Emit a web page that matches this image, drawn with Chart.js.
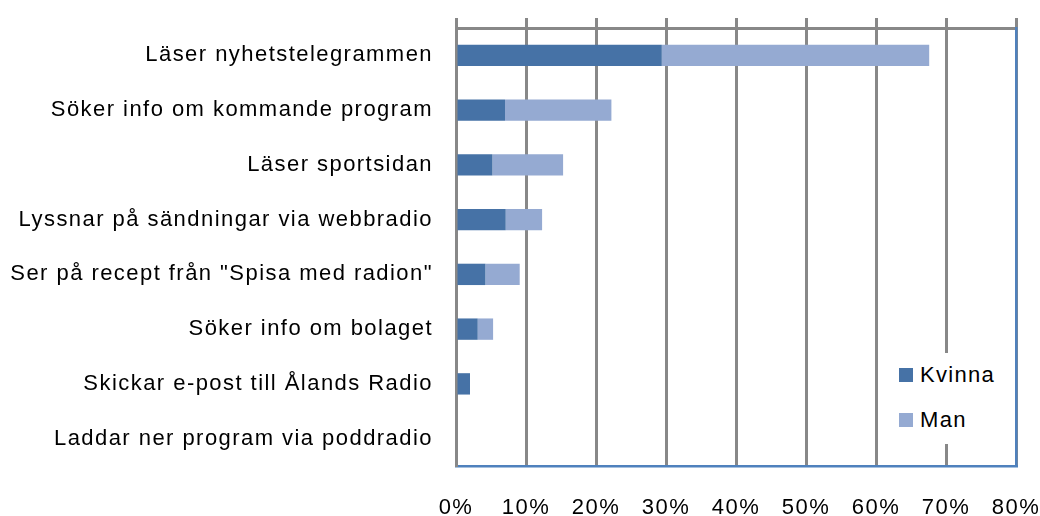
<!DOCTYPE html>
<html>
<head>
<meta charset="utf-8">
<script src="https://cdn.jsdelivr.net/npm/chart.js@4.4.1/dist/chart.umd.min.js"></script>
<style>
  body { margin: 0; background: #fff; }
  #wrap { position: relative; width: 1040px; height: 516px; }
  #legend {
    position: absolute; left: 893px; top: 353px; width: 118px; height: 91px;
    background: #fff; font: 22px "Liberation Sans", Arial, sans-serif;
    letter-spacing: 1.3px; color: #000;
  }
  .item { position: absolute; left: 6px; display: flex; align-items: center; height: 26px; }
  .box { width: 14px; height: 14px; margin-right: 7px; }
</style>
</head>
<body>
<div id="wrap">
  <canvas id="chart" width="1040" height="516"></canvas>
  <div id="legend"></div>
</div>
<script>
const categories = [
  "Läser nyhetstelegrammen",
  "Söker info om kommande program",
  "Läser sportsidan",
  "Lyssnar på sändningar via webbradio",
  "Ser på recept från \"Spisa med radion\"",
  "Söker info om bolaget",
  "Skickar e-post till Ålands Radio",
  "Laddar ner program via poddradio"
];
const kvinna = [29.4, 7.0, 5.2, 7.1, 4.2, 3.1, 2.0, 0];
const man = [38.2, 15.2, 10.1, 5.2, 4.9, 2.2, 0, 0];
const xTicks = [0, 10, 20, 30, 40, 50, 60, 70, 80];

const FONT = { family: "'Liberation Sans', Arial, sans-serif", size: 22 };
const GRID = "#888888";
const BLUE = "#4f81bd";

// letter spacing like the original rendering
const spacing = {
  id: "spacing",
  beforeDraw(chart) { chart.ctx.letterSpacing = "1.45px"; }
};

// fixed box sizes, no extra label padding from the layout
function fixSize(w, h) {
  return s => {
    if (w != null) s.width = w;
    if (h != null) s.height = h;
    s.paddingLeft = s.paddingRight = s.paddingTop = s.paddingBottom = 0;
  };
}

const chart = new Chart(document.getElementById("chart"), {
  type: "bar",
  data: {
    labels: categories,
    datasets: [
      { label: "Kvinna", data: kvinna, backgroundColor: "#4672a6" },
      { label: "Man", data: man, backgroundColor: "#95aad2" }
    ]
  },
  options: {
    indexAxis: "y",
    responsive: false,
    animation: false,
    layout: { padding: 0 },
    categoryPercentage: 1,
    barPercentage: 0.39,
    plugins: { legend: { display: false }, tooltip: { enabled: false } },
    scales: {
      x: {
        stacked: true, min: 0, max: 80,
        afterBuildTicks: s => { s.ticks = xTicks.map(v => ({ value: v })); },
        ticks: { callback: v => v + "%", font: FONT, color: "#000", padding: 29, maxRotation: 0 },
        grid: { color: GRID, lineWidth: 3, drawTicks: false },
        border: { color: BLUE, width: 2.5 },
        afterFit: fixSize(null, 50)
      },
      xTop: {
        position: "top", min: 0, max: 80,
        afterBuildTicks: s => { s.ticks = xTicks.map(v => ({ value: v })); },
        ticks: { display: false },
        grid: { color: GRID, lineWidth: 3, drawOnChartArea: false, drawTicks: true, tickLength: 10 },
        border: { color: GRID, width: 3 },
        afterFit: fixSize(null, 28)
      },
      y: {
        stacked: true,
        ticks: { font: FONT, color: "#000", padding: 15 },
        grid: { display: false },
        border: { color: GRID, width: 3 },
        afterFit: fixSize(456, null)
      },
      y2: {
        type: "category", position: "right", z: 1,
        ticks: { display: false },
        grid: { display: false },
        border: { color: BLUE, width: 2.5 },
        afterFit: fixSize(24, null)
      }
    }
  },
  plugins: [spacing]
});

// legend inside the plot area
const legend = document.getElementById("legend");
chart.data.datasets.forEach((ds, i) => {
  const item = document.createElement("div");
  item.className = "item";
  item.style.top = (9 + i * 45) + "px";
  item.innerHTML = `<span class="box" style="background:${ds.backgroundColor}"></span>${ds.label}`;
  legend.appendChild(item);
});
</script>
</body>
</html>
